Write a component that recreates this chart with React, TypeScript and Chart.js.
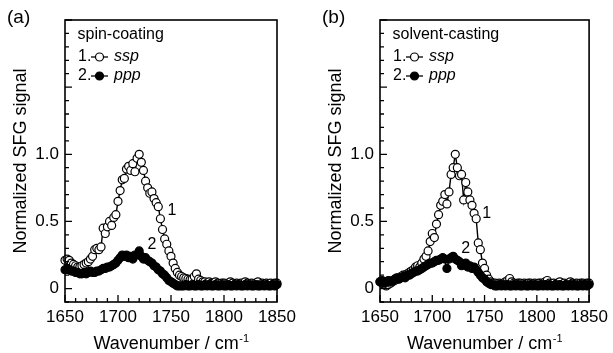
import React, { useEffect, useRef } from 'react';
import { Chart, registerables } from 'chart.js';

Chart.register(...registerables);

// Wavenumber grid (cm-1), step 2
const wavenumbers = [
  1650, 1652, 1654, 1656, 1658, 1660, 1662, 1664, 1666, 1668,
  1670, 1672, 1674, 1676, 1678, 1680, 1682, 1684, 1686, 1688,
  1690, 1692, 1694, 1696, 1698, 1700, 1702, 1704, 1706, 1708,
  1710, 1712, 1714, 1716, 1718, 1720, 1722, 1724, 1726, 1728,
  1730, 1732, 1734, 1736, 1738, 1740, 1742, 1744, 1746, 1748,
  1750, 1752, 1754, 1756, 1758, 1760, 1762, 1764, 1766, 1768,
  1770, 1772, 1774, 1776, 1778, 1780, 1782, 1784, 1786, 1788,
  1790, 1792, 1794, 1796, 1798, 1800, 1802, 1804, 1806, 1808,
  1810, 1812, 1814, 1816, 1818, 1820, 1822, 1824, 1826, 1828,
  1830, 1832, 1834, 1836, 1838, 1840, 1842, 1844, 1846, 1848,
  1850,
];

// (a) spin-coating
const spinSsp = [
  0.21, 0.22, 0.21, 0.19, 0.18, 0.17, 0.16, 0.16, 0.17, 0.18,
  0.19, 0.20, 0.22, 0.24, 0.29, 0.30, 0.29, 0.31, 0.45, 0.41,
  0.46, 0.50, 0.47, 0.53, 0.55, 0.65, 0.73, 0.81, 0.82, 0.89,
  0.91, 0.88, 0.93, 0.87, 0.97, 1.00, 0.94, 0.88, 0.80, 0.75,
  0.71, 0.72, 0.67, 0.64, 0.61, 0.52, 0.44, 0.37, 0.33, 0.28,
  0.24, 0.19, 0.15, 0.12, 0.10, 0.09, 0.08, 0.075, 0.07, 0.065,
  0.07, 0.09, 0.11, 0.07, 0.06, 0.05, 0.05, 0.04, 0.05, 0.04,
  0.04, 0.05, 0.04, 0.03, 0.04, 0.04, 0.03, 0.04, 0.05, 0.04,
  0.03, 0.04, 0.03, 0.04, 0.03, 0.05, 0.04, 0.03, 0.04, 0.03,
  0.04, 0.05, 0.03, 0.04, 0.03, 0.04, 0.03, 0.04, 0.03, 0.04,
  0.04,
];
const spinPpp = [
  0.14, 0.15, 0.14, 0.13, 0.13, 0.12, 0.12, 0.11, 0.11, 0.12,
  0.11, 0.12, 0.13, 0.12, 0.12, 0.13, 0.13, 0.14, 0.15, 0.15,
  0.16, 0.16, 0.17, 0.18, 0.19, 0.21, 0.23, 0.25, 0.24, 0.25,
  0.23, 0.24, 0.22, 0.25, 0.25, 0.28, 0.24, 0.22, 0.23, 0.21,
  0.20, 0.19, 0.17, 0.16, 0.14, 0.13, 0.11, 0.10, 0.08, 0.06,
  0.05, 0.04, 0.03, 0.02, 0.02, 0.02, 0.02, 0.03, 0.02, 0.02,
  0.03, 0.02, 0.02, 0.03, 0.02, 0.02, 0.03, 0.02, 0.03, 0.02,
  0.02, 0.03, 0.02, 0.02, 0.03, 0.02, 0.02, 0.03, 0.02, 0.02,
  0.03, 0.02, 0.03, 0.02, 0.02, 0.03, 0.02, 0.03, 0.02, 0.02,
  0.03, 0.02, 0.02, 0.03, 0.02, 0.03, 0.02, 0.02, 0.03, 0.02,
  0.03,
];

// (b) solvent-casting
const castSsp = [
  0.05, 0.04, 0.03, 0.02, 0.03, 0.04, 0.05, 0.06, 0.07, 0.08,
  0.09, 0.10, 0.10, 0.11, 0.12, 0.13, 0.14, 0.16, 0.17, 0.16,
  0.19, 0.22, 0.24, 0.28, 0.35, 0.41, 0.38, 0.48, 0.55, 0.62,
  0.65, 0.70, 0.63, 0.72, 0.85, 0.90, 1.00, 0.90, 0.84, 0.85,
  0.66, 0.79, 0.72, 0.66, 0.62, 0.56, 0.52, 0.34, 0.29, 0.19,
  0.15, 0.10, 0.07, 0.05, 0.04, 0.04, 0.03, 0.04, 0.03, 0.04,
  0.05, 0.06, 0.075, 0.05, 0.04, 0.03, 0.04, 0.04, 0.03, 0.04,
  0.03, 0.04, 0.04, 0.03, 0.04, 0.03, 0.04, 0.04, 0.03, 0.05,
  0.06, 0.04, 0.03, 0.04, 0.03, 0.04, 0.05, 0.03, 0.04, 0.03,
  0.04, 0.05, 0.04, 0.03, 0.04, 0.03, 0.04, 0.04, 0.03, 0.04,
  0.04,
];
const castPpp = [
  0.05, 0.06, 0.04, 0.05, 0.06, 0.05, 0.06, 0.07, 0.08, 0.07,
  0.08, 0.09, 0.08, 0.10, 0.10, 0.11, 0.12, 0.13, 0.13, 0.14,
  0.15, 0.16, 0.17, 0.18, 0.19, 0.19, 0.20, 0.21, 0.21, 0.22,
  0.23, 0.22, 0.15, 0.22, 0.23, 0.24, 0.22, 0.21, 0.20, 0.17,
  0.18, 0.19, 0.16, 0.17, 0.15, 0.16, 0.14, 0.12, 0.10, 0.08,
  0.07, 0.05, 0.04, 0.03, 0.03, 0.02, 0.02, 0.03, 0.02, 0.03,
  0.02, 0.03, 0.02, 0.02, 0.03, 0.02, 0.03, 0.02, 0.02, 0.03,
  0.02, 0.02, 0.03, 0.02, 0.03, 0.02, 0.02, 0.03, 0.02, 0.03,
  0.02, 0.03, 0.02, 0.02, 0.03, 0.02, 0.03, 0.02, 0.02, 0.03,
  0.02, 0.03, 0.02, 0.03, 0.02, 0.02, 0.03, 0.02, 0.03, 0.02,
  0.03,
];

const xTickLabels = [1650, 1700, 1750, 1800, 1850];
const yTickLabels = [0, 0.5, 1.0];
const xTickValues = [
  1650, 1660, 1670, 1680, 1690, 1700, 1710, 1720, 1730, 1740, 1750,
  1760, 1770, 1780, 1790, 1800, 1810, 1820, 1830, 1840, 1850,
];
const yTickValues = [
  -0.1, 0, 0.1, 0.2, 0.3, 0.4, 0.5, 0.6, 0.7, 0.8, 0.9, 1.0,
  1.1, 1.2, 1.3, 1.4, 1.5, 1.6, 1.7, 1.8, 1.9, 2.0,
];

const FONT = '"Liberation Sans", Arial, Helvetica, sans-serif';

type PanelCfg = {
  tag: string;
  method: string;
  ssp: number[];
  ppp: number[];
  ann1: [number, number];
  ann2: [number, number];
  left: number;
  width: number;
};

const panels: PanelCfg[] = [
  { tag: '(a)', method: 'spin-coating', ssp: spinSsp, ppp: spinPpp, ann1: [1751, 0.58], ann2: [1732, 0.33], left: 0, width: 315 },
  { tag: '(b)', method: 'solvent-casting', ssp: castSsp, ppp: castPpp, ann1: [1752, 0.555], ann2: [1732, 0.30], left: 315, width: 298 },
];

function decorPlugin(p: PanelCfg) {
  return {
    id: 'decor',
    afterDraw(chart: any) {
      const { ctx, chartArea: a, scales } = chart;
      const x = scales.x;
      const y = scales.y;
      ctx.save();
      ctx.strokeStyle = '#000';
      ctx.fillStyle = '#000';
      // inward ticks
      ctx.lineWidth = 1.3;
      ctx.beginPath();
      x.ticks.forEach((t: any) => {
        const px = x.getPixelForValue(t.value);
        const major = Math.abs(t.value % 50) < 1e-6;
        ctx.moveTo(px, a.bottom);
        ctx.lineTo(px, a.bottom - (major ? 7 : 4));
      });
      y.ticks.forEach((t: any) => {
        const py = y.getPixelForValue(t.value);
        const major = Math.abs(t.value * 2 - Math.round(t.value * 2)) < 1e-6;
        ctx.moveTo(a.left, py);
        ctx.lineTo(a.left + (major ? 7 : 4), py);
      });
      ctx.stroke();
      // frame
      ctx.lineWidth = 1.6;
      ctx.strokeRect(a.left, a.top, a.right - a.left, a.bottom - a.top);

      // panel tag
      ctx.textBaseline = 'middle';
      ctx.textAlign = 'left';
      ctx.font = `19px ${FONT}`;
      ctx.fillText(p.tag, 7, 18);

      // legend
      const lx = a.left;
      ctx.font = `16px ${FONT}`;
      ctx.fillText(p.method, lx + 12.5, 35);
      const rows: [string, string, boolean, number][] = [
        ['1.', 'ssp', false, 57],
        ['2.', 'ppp', true, 76],
      ];
      rows.forEach(([num, name, filled, ry]) => {
        ctx.font = `16px ${FONT}`;
        ctx.fillText(num, lx + 13, ry);
        ctx.lineWidth = 1.3;
        ctx.beginPath();
        ctx.moveTo(lx + 26, ry);
        ctx.lineTo(lx + 43, ry);
        ctx.stroke();
        ctx.beginPath();
        ctx.arc(lx + 34.5, ry, 4, 0, Math.PI * 2);
        ctx.fillStyle = filled ? '#000' : '#fff';
        ctx.fill();
        ctx.lineWidth = 1.2;
        ctx.stroke();
        ctx.fillStyle = '#000';
        ctx.font = `italic 16px ${FONT}`;
        ctx.fillText(name, lx + 49, ry);
      });

      // curve annotations
      ctx.font = `16px ${FONT}`;
      ctx.textAlign = 'center';
      ctx.fillText('1', x.getPixelForValue(p.ann1[0]), y.getPixelForValue(p.ann1[1]));
      ctx.fillText('2', x.getPixelForValue(p.ann2[0]), y.getPixelForValue(p.ann2[1]));

      // y title
      ctx.save();
      ctx.translate(21, (a.top + a.bottom) / 2);
      ctx.rotate(-Math.PI / 2);
      ctx.font = `18px ${FONT}`;
      ctx.textAlign = 'center';
      ctx.textBaseline = 'middle';
      ctx.fillText('Normalized SFG signal', 0, 0);
      ctx.restore();

      // x title with superscript
      const main = 'Wavenumber / cm';
      const sup = '-1';
      ctx.textAlign = 'left';
      ctx.textBaseline = 'alphabetic';
      ctx.font = `18px ${FONT}`;
      const wMain = ctx.measureText(main).width;
      ctx.font = `11px ${FONT}`;
      const wSup = ctx.measureText(sup).width;
      const startX = (a.left + a.right) / 2 - (wMain + wSup) / 2;
      const base = 348.5;
      ctx.font = `18px ${FONT}`;
      ctx.fillText(main, startX, base);
      ctx.font = `11px ${FONT}`;
      ctx.fillText(sup, startX + wMain + 0.5, base - 7);
      ctx.restore();
    },
  };
}

function Panel({ cfg }: { cfg: PanelCfg }) {
  const ref = useRef<HTMLCanvasElement>(null);
  useEffect(() => {
    const canvas = ref.current;
    if (!canvas) return;
    const sspPts = wavenumbers.map((w, i) => ({ x: w, y: cfg.ssp[i] }));
    const pppPts = wavenumbers.map((w, i) => ({ x: w, y: cfg.ppp[i] }));
    const chart = new Chart(canvas, {
      type: 'line',
      data: {
        datasets: [
          {
            label: 'ppp',
            data: pppPts,
            borderColor: '#000',
            borderWidth: 1.4,
            pointRadius: 4,
            pointBorderWidth: 1.2,
            pointBackgroundColor: '#000',
            pointBorderColor: '#000',
            tension: 0,
            clip: false as any,
          },
          {
            label: 'ssp',
            data: sspPts,
            borderColor: '#000',
            borderWidth: 1.4,
            pointRadius: 4,
            pointBorderWidth: 1.2,
            pointBackgroundColor: '#fff',
            pointBorderColor: '#000',
            tension: 0,
            clip: false as any,
          },
        ],
      },
      options: {
        responsive: false,
        animation: false,
        devicePixelRatio: 1,
        layout: { padding: { top: 20, right: cfg.width - 277, left: 0, bottom: 0 } },
        plugins: { legend: { display: false }, tooltip: { enabled: false } },
        scales: {
          x: {
            type: 'linear',
            min: 1650,
            max: 1850,
            grid: { display: false, drawTicks: false },
            border: { display: false },
            afterBuildTicks: (s: any) => {
              s.ticks = xTickValues.map((v) => ({ value: v }));
            },
            afterFit: (s: any) => {
              s.height = 51;
            },
            ticks: {
              autoSkip: false,
              maxRotation: 0,
              minRotation: 0,
              padding: 5,
              color: '#000',
              font: { family: FONT, size: 17 },
              callback: (v: any) => (xTickLabels.includes(Number(v)) ? String(v) : ''),
            },
          },
          y: {
            type: 'linear',
            min: -0.1,
            max: 2.0,
            grid: { display: false, drawTicks: false },
            border: { display: false },
            afterBuildTicks: (s: any) => {
              s.ticks = yTickValues.map((v) => ({ value: v }));
            },
            afterFit: (s: any) => {
              s.width = 65;
            },
            ticks: {
              autoSkip: false,
              padding: 6,
              color: '#000',
              font: { family: FONT, size: 17 },
              callback: (v: any) => {
                const m = yTickLabels.find((t) => Math.abs(t - Number(v)) < 1e-6);
                if (m === undefined) return '';
                return m === 0 ? '0' : m.toFixed(1);
              },
            },
          },
        },
      },
      plugins: [decorPlugin(cfg)],
    });
    return () => chart.destroy();
  }, [cfg]);
  return (
    <canvas
      ref={ref}
      width={cfg.width}
      height={353}
      style={{ position: 'absolute', left: cfg.left, top: 0, width: cfg.width, height: 353 }}
    />
  );
}

export default function App() {
  return (
    <div style={{ position: 'fixed', left: 0, top: 0, width: 613, height: 353, background: '#fff', overflow: 'hidden' }}>
      {panels.map((p) => (
        <Panel key={p.tag} cfg={p} />
      ))}
    </div>
  );
}
